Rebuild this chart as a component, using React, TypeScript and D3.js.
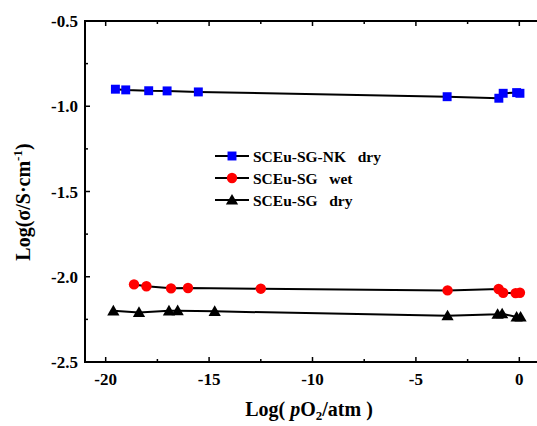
import React, { useEffect, useRef } from 'react';
import * as d3 from 'd3';

// log(pO2 / atm)
const nkDryX = [-19.53, -19.03, -17.92, -17.03, -15.52, -3.49, -0.99, -0.78, -0.13, 0.03];
const nkDryY = [-0.90, -0.904, -0.909, -0.91, -0.916, -0.944, -0.953, -0.924, -0.92, -0.924];

const sgWetX = [-18.63, -18.03, -16.84, -16.02, -12.5, -3.47, -1.0, -0.78, -0.18, 0.03];
const sgWetY = [-2.045, -2.056, -2.068, -2.066, -2.07, -2.08, -2.072, -2.094, -2.096, -2.094];

const sgDryX = [-19.63, -18.39, -16.94, -16.52, -14.73, -3.47, -1.05, -0.83, -0.13, 0.06];
const sgDryY = [-2.2, -2.209, -2.2, -2.199, -2.203, -2.229, -2.22, -2.217, -2.236, -2.236];

const seriesNames = ['SCEu-SG-NK\u00a0\u00a0\u00a0dry', 'SCEu-SG\u00a0\u00a0\u00a0wet', 'SCEu-SG\u00a0\u00a0\u00a0dry'];
const xTicks = [-20, -15, -10, -5, 0];
const yTicks = [-2.5, -2.0, -1.5, -1.0, -0.5];

const App = () => {
    const ref = useRef(null);

    useEffect(() => {
        const svg = d3.select(ref.current);
        svg.selectAll('*').remove();

        const x = d3.scaleLinear().domain([-21, 1]).range([85, 540]);
        const y = d3.scaleLinear().domain([-2.5, -0.5]).range([362, 21]);
        const font = '"Liberation Serif", "Times New Roman", serif';

        const series = [
            { name: seriesNames[0], xs: nkDryX, ys: nkDryY, shape: 'square', color: '#0000ff' },
            { name: seriesNames[1], xs: sgWetX, ys: sgWetY, shape: 'circle', color: '#ff0000' },
            { name: seriesNames[2], xs: sgDryX, ys: sgDryY, shape: 'triangle', color: '#000000' }
        ];

        const symbolFor = s => s === 'square' ? d3.symbolSquare : s === 'circle' ? d3.symbolCircle : d3.symbolTriangle;
        const sizeFor = s => s === 'square' ? 80 : s === 'circle' ? 85 : 65;

        // axes frame (left, top, bottom)
        const g = svg.append('g');
        g.append('line').attr('x1', x(-21)).attr('x2', x(-21)).attr('y1', y(-2.5)).attr('y2', y(-0.5))
            .attr('stroke', '#000').attr('stroke-width', 2);
        g.append('line').attr('x1', x(-21) - 1).attr('x2', 537).attr('y1', y(-0.5)).attr('y2', y(-0.5))
            .attr('stroke', '#000').attr('stroke-width', 2);
        g.append('line').attr('x1', x(-21) - 1).attr('x2', 537).attr('y1', y(-2.5)).attr('y2', y(-2.5))
            .attr('stroke', '#000').attr('stroke-width', 2);

        const xMinor = d3.range(-20, 1, 2.5);
        xMinor.forEach(v => {
            const major = xTicks.includes(v);
            const len = major ? 5 : 3;
            g.append('line').attr('x1', x(v)).attr('x2', x(v))
                .attr('y1', y(-2.5)).attr('y2', y(-2.5) - len).attr('stroke', '#000').attr('stroke-width', 1.5);
            g.append('line').attr('x1', x(v)).attr('x2', x(v))
                .attr('y1', y(-0.5)).attr('y2', y(-0.5) + len).attr('stroke', '#000').attr('stroke-width', 1.5);
        });
        const yMinor = d3.range(-2.5, -0.49, 0.25);
        yMinor.forEach(v => {
            const major = Math.abs(v * 2 - Math.round(v * 2)) < 1e-6;
            const len = major ? 5 : 3;
            g.append('line').attr('x1', x(-21)).attr('x2', x(-21) + len)
                .attr('y1', y(v)).attr('y2', y(v)).attr('stroke', '#000').attr('stroke-width', 1.5);
        });

        g.selectAll('.xt').data(xTicks).enter().append('text')
            .attr('x', d => x(d)).attr('y', 385).attr('text-anchor', 'middle')
            .attr('font-family', font).attr('font-weight', 'bold').attr('font-size', 17)
            .text(d => d);
        g.selectAll('.yt').data(yTicks).enter().append('text')
            .attr('x', 78).attr('y', d => y(d) + 6).attr('text-anchor', 'end')
            .attr('font-family', font).attr('font-weight', 'bold').attr('font-size', 17)
            .text(d => d.toFixed(1));

        // axis titles
        const xl = svg.append('text').attr('x', 309).attr('y', 416).attr('text-anchor', 'middle')
            .attr('font-family', font).attr('font-weight', 'bold').attr('font-size', 20);
        xl.append('tspan').text('Log(\u00a0');
        xl.append('tspan').attr('font-style', 'italic').text('p');
        xl.append('tspan').text('O');
        xl.append('tspan').attr('font-size', 13).attr('dy', 4).text('2');
        xl.append('tspan').attr('dy', -4).text('/atm\u00a0)');

        const yl = svg.append('text').attr('transform', 'translate(30,202) rotate(-90)').attr('text-anchor', 'middle')
            .attr('font-family', font).attr('font-weight', 'bold').attr('font-size', 20);
        yl.append('tspan').text('Log(σ/S·cm');
        yl.append('tspan').attr('font-size', 13).attr('dy', -8).text('-1');
        yl.append('tspan').attr('dy', 8).text(')');

        const line = d3.line().x(d => x(d[0])).y(d => y(d[1]));

        series.forEach(s => {
            const pts = s.xs.map((v, i) => [v, s.ys[i]]);
            svg.append('path').datum(pts).attr('d', line)
                .attr('fill', 'none').attr('stroke', '#000').attr('stroke-width', 2);
            svg.selectAll(null).data(pts).enter().append('path')
                .attr('transform', d => `translate(${x(d[0])},${y(d[1]) + (s.shape === 'triangle' ? 1 : 0)})`)
                .attr('d', d3.symbol().type(symbolFor(s.shape)).size(sizeFor(s.shape))())
                .attr('fill', s.color);
        });

        // legend
        const leg = svg.append('g');
        series.forEach((s, i) => {
            const ly = 156 + i * 22;
            leg.append('line').attr('x1', 215).attr('x2', 249).attr('y1', ly).attr('y2', ly)
                .attr('stroke', '#000').attr('stroke-width', 2);
            leg.append('path').attr('transform', `translate(232,${ly + (s.shape === 'triangle' ? 1 : 0)})`)
                .attr('d', d3.symbol().type(symbolFor(s.shape)).size(sizeFor(s.shape))())
                .attr('fill', s.color);
            leg.append('text').attr('x', 253).attr('y', ly + 5.5)
                .attr('font-family', font).attr('font-weight', 'bold').attr('font-size', 15.5)
                .text(s.name);
        });
    }, []);

    return <svg ref={ref} width={537} height={426}
        style={{ position: 'absolute', left: 0, top: 0, background: '#fff' }} />;
};

export default App;
